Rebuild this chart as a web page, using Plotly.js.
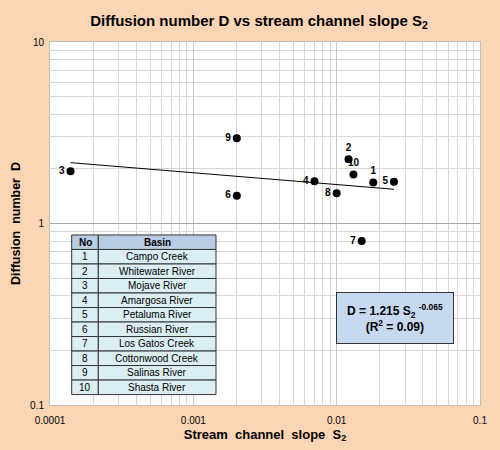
<!DOCTYPE html>
<html>
<head>
<meta charset="utf-8">
<script src="https://cdn.plot.ly/plotly-3.0.1.min.js"></script>
<style>html,body{margin:0;padding:0;background:#FCD5B4;}#chart{width:500px;height:450px;}</style>
</head>
<body>
<div id="chart"></div>
<script>
// Data
var basinNo = ['1','2','3','4','5','6','7','8','9','10'];
var basinName = ['Campo Creek','Whitewater River','Mojave River','Amargosa River','Petaluma River','Russian River','Los Gatos Creek','Cottonwood Creek','Salinas River','Shasta River'];
var tableHeader = ['No', 'Basin'];
var slope = [0.0180, 0.0121, 0.000139, 0.0070, 0.0251, 0.00201, 0.01495, 0.0100, 0.00201, 0.0131];
var diffusion = [1.68, 2.26, 1.94, 1.71, 1.70, 1.42, 0.80, 1.47, 2.95, 1.86];
var labelPos = ['top center','top center','middle left','middle left','middle left','middle left','middle left','middle left','middle left','top center'];
// Power-law fit given in the chart: D = a * S^b
var fitA = 1.215, fitB = -0.065;
var fitX = [Math.min.apply(null, slope), Math.max.apply(null, slope)];
var fitY = fitX.map(function(s){ return fitA * Math.pow(s, fitB); });
var xTickVals = [0.0001, 0.001, 0.01, 0.1];
var xTickText = ['0.0001', '0.001', '0.01', '0.1'];
var yTickVals = [0.1, 1, 10];
var yTickText = ['0.1', '1', '10'];

function minorVals(lo, hi){
  var v = [];
  for (var d = lo; d < hi; d++) for (var m = 2; m <= 9; m++) v.push(m * Math.pow(10, d));
  return v;
}

var FONT = 'Liberation Sans, Arial, sans-serif';

// plot-area geometry (pixels) for converting table layout to paper coords
var W = 500, H = 450, ML = 50, MR = 20, MT = 41.5, MB = 44.5;
var PW = W - ML - MR, PH = H - MT - MB;
function px2x(px){ return (px - ML) / PW; }
function py2y(py){ return (H - MB - py) / PH; }

var shapes = [], annotations = [];
// Table layout (pixels)
var tLeft = 71.7, tMid = 98.3, tRight = 216, tTop = 235, rowH = 14.55;
var colEdges = [[tLeft, tMid], [tMid, tRight]];
var rows = [tableHeader].concat(basinNo.map(function(n, i){ return [n, basinName[i]]; }));
rows.forEach(function(row, r){
  var y0 = tTop + r * rowH, y1 = y0 + rowH;
  row.forEach(function(txt, c){
    var e = colEdges[c];
    shapes.push({
      type: 'rect', xref: 'paper', yref: 'paper', layer: 'above',
      x0: px2x(e[0]), x1: px2x(e[1]), y0: py2y(y1), y1: py2y(y0),
      fillcolor: r === 0 ? '#B8CCE4' : '#DBEEF4',
      line: {color: '#333', width: 1}
    });
    annotations.push({
      xref: 'paper', yref: 'paper', showarrow: false,
      x: px2x((e[0] + e[1]) / 2), y: py2y((y0 + y1) / 2),
      xanchor: 'center', yanchor: 'middle',
      text: r === 0 ? '<b>' + txt + '</b>' : txt,
      font: {family: FONT, size: 10, color: '#000'}
    });
  });
});

// Equation box
annotations.push({
  xref: 'paper', yref: 'paper',
  x: px2x(394.5), y: py2y(318),
  xanchor: 'center', yanchor: 'middle',
  text: '<b>D = 1.215 S<sub>2</sub> <sup>-0.065</sup><br>(R<sup>2</sup> = 0.09)</b>',
  showarrow: false, align: 'center',
  font: {family: FONT, size: 12, color: '#000'},
  bgcolor: '#C6D9F1', bordercolor: '#333', borderwidth: 1,
  width: 114, height: 48, borderpad: 1
});

var traces = [
  {
    x: fitX, y: fitY, type: 'scatter', mode: 'lines',
    line: {color: '#000', width: 1}, hoverinfo: 'skip', showlegend: false
  },
  {
    x: slope, y: diffusion, type: 'scatter', mode: 'markers+text',
    text: basinNo, textposition: labelPos,
    textfont: {family: FONT, size: 10, color: '#000', weight: 'bold'},
    marker: {color: '#000', size: 8}, showlegend: false
  }
];

var layout = {
  width: W, height: H,
  paper_bgcolor: '#FCD5B4', plot_bgcolor: '#FFFFFF',
  margin: {l: ML, r: MR, t: MT, b: MB},
  font: {family: FONT, color: '#000'},
  title: {
    text: '<b>Diffusion number D vs stream channel slope S<sub>2</sub></b>',
    font: {family: FONT, size: 15, color: '#000'},
    x: 0.518, xanchor: 'center', y: 0.955, yanchor: 'middle'
  },
  xaxis: {
    type: 'log', range: [-4, -1],
    tickmode: 'array', tickvals: xTickVals, ticktext: xTickText,
    tickfont: {family: FONT, size: 10, color: '#000'},
    ticks: '', ticklabelstandoff: 6,
    showgrid: true, gridcolor: '#c8c8c8', gridwidth: 1,
    minor: {tickmode: 'array', tickvals: minorVals(-4, -1), showgrid: true, gridcolor: '#d6d6d6', gridwidth: 1, ticks: ''},
    showline: true, linecolor: '#bfbfbf', mirror: true, zeroline: false,
    title: {text: '<b>Stream  channel  slope  S<sub>2</sub></b>', font: {family: FONT, size: 13, color: '#000'}, standoff: 4}
  },
  yaxis: {
    type: 'log', range: [-1, 1],
    tickmode: 'array', tickvals: yTickVals, ticktext: yTickText,
    tickfont: {family: FONT, size: 10, color: '#000'},
    ticks: '', ticklabelstandoff: 3,
    showgrid: true, gridcolor: '#a8a8a8', gridwidth: 1,
    minor: {tickmode: 'array', tickvals: minorVals(-1, 1), showgrid: true, gridcolor: '#d6d6d6', gridwidth: 1, ticks: ''},
    showline: true, linecolor: '#bfbfbf', mirror: true, zeroline: false,
    title: {text: '<b>Diffusion  number  D</b>', font: {family: FONT, size: 12.5, color: '#000'}, standoff: 6}
  },
  shapes: shapes,
  annotations: annotations
};

Plotly.newPlot('chart', traces, layout, {displayModeBar: false, staticPlot: true});
</script>
</body>
</html>
